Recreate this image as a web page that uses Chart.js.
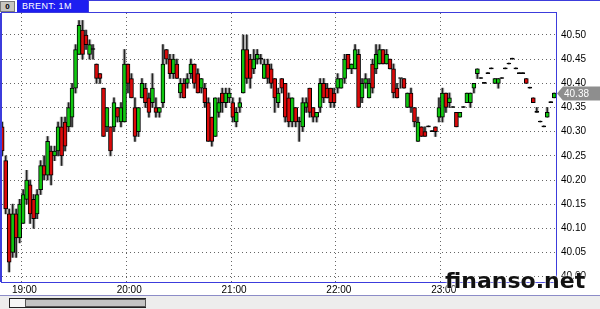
<!DOCTYPE html>
<html>
<head>
<meta charset="utf-8">
<script src="https://cdn.jsdelivr.net/npm/chart.js@4"></script>
<style>
  html, body { margin: 0; padding: 0; background: #fff; }
  #wrap { position: relative; width: 600px; height: 309px; overflow: hidden; background: #fff; }
  #c { position: absolute; left: 0; top: 0; z-index: 1; }
  .icon { position: absolute; z-index: 5; left: 0; top: 1px; width: 13px; height: 9px; background: #c8c6c0; border: 1px solid #7a7a7a;
          font: bold 8px "Liberation Sans", sans-serif; color: #000; text-align: center; line-height: 9px; }
  .title { position: absolute; z-index: 5; left: 17px; top: 0; width: 66px; height: 12px; padding-left: 5px; background: #1e1ef0;
           color: #fff; font: 9px "Liberation Sans", sans-serif; line-height: 12px; letter-spacing: 0.3px; }
  .field { position: absolute; z-index: 9; left: 88px; top: 0; width: 512px; height: 12px; background: #fff;
           box-shadow: inset 1px 1px 0 #3c3cdc; }
  .footer { position: absolute; z-index: 5; left: 0; top: 295px; width: 600px; height: 14px; background: #ededed; border-top: 1px solid #8c8cc8; }
  .scroll { position: absolute; left: 9px; top: 2px; width: 135px; height: 8px; background: #f6f6f6; border: 1px solid #222; }
  .thumb { position: absolute; left: 15px; top: 0; width: 119px; height: 6px; background: #c4c4c4; border: 1px solid #555; }
  .wm { position: absolute; z-index: 6; left: 445px; top: 270px; font: bold 22px "DejaVu Sans", sans-serif; line-height: 22px;
        color: #111; text-shadow: 0 0 2px #fff, 0 0 3px #fff; white-space: nowrap; }
</style>
</head>
<body>
<div id="wrap">
  <canvas id="c" width="600" height="309"></canvas>
  <div class="icon">0</div>
  <div class="title">BRENT: 1M</div>
  <div class="field"></div>
  <div class="footer"><div class="scroll"><div class="thumb"></div></div></div>
  <div class="wm">finanso.net</div>
</div>
<script>
// BRENT, 1 minute chart (one candle kept every 2 minutes)
const times = [
  '18:49','18:51','18:53','18:55','18:57','18:59',
  '19:01','19:03','19:05','19:07','19:09','19:11','19:13','19:15','19:17','19:19','19:21','19:23','19:25','19:27','19:29',
  '19:31','19:33','19:35','19:37','19:39','19:41','19:43','19:45','19:47','19:49','19:51','19:53','19:55','19:57','19:59',
  '20:01','20:03','20:05','20:07','20:09','20:11','20:13','20:15','20:17','20:19','20:21','20:23','20:25','20:27','20:29',
  '20:31','20:33','20:35','20:37','20:39','20:41','20:43','20:45','20:47','20:49','20:51','20:53','20:55','20:57','20:59',
  '21:01','21:03','21:05','21:07','21:09','21:11','21:13','21:15','21:17','21:19','21:21','21:23','21:25','21:27','21:29',
  '21:31','21:33','21:35','21:37','21:39','21:41','21:43','21:45','21:47','21:49','21:51','21:53','21:55','21:57','21:59',
  '22:01','22:03','22:05','22:07','22:09','22:11','22:13','22:15','22:17','22:19','22:21','22:23','22:25','22:27','22:29',
  '22:31','22:33','22:35','22:37','22:39','22:41','22:43','22:45','22:47','22:49','22:51','22:53','22:55','22:57','22:59',
  '23:01','23:03','23:05','23:07','23:09','23:11','23:13','23:15','23:17','23:19','23:21','23:23','23:25','23:27','23:29',
  '23:31','23:33','23:35','23:37','23:39','23:41','23:43','23:45','23:47','23:49','23:51','23:53','23:55','23:57','23:59',
  '00:01','00:03','00:05'
];

const open = [
  40.31,40.24,40.13,40.05,40.13,40.08,
  40.11,40.16,40.19,40.16,40.13,40.18,40.23,40.21,40.26,40.25,40.26,40.31,40.32,40.31,40.33,
  40.39,40.46,40.51,40.50,40.46,40.47,40.44,40.42,40.39,40.31,40.31,40.31,40.35,40.32,40.32,
  40.44,40.41,40.35,40.30,40.37,40.39,40.37,40.36,40.35,40.34,40.36,40.47,40.45,40.42,40.44,
  40.38,40.40,40.40,40.42,40.44,40.42,40.39,40.39,40.36,40.33,40.29,40.34,40.38,40.36,40.37,
  40.36,40.32,40.35,40.38,40.47,40.45,40.43,40.45,40.45,40.41,40.44,40.43,40.41,40.36,40.41,
  40.40,40.37,40.32,40.35,40.32,40.31,40.35,40.39,40.35,40.33,40.35,40.40,40.39,40.39,40.38,
  40.39,40.39,40.41,40.46,40.43,40.43,40.46,40.37,40.40,40.37,40.44,40.43,40.44,40.47,40.44,
  40.45,40.43,40.39,40.41,40.41,40.35,40.38,40.35,40.28,40.31,40.30,40.31,40.30,40.31,40.33,
  40.33,40.38,40.36,40.35,40.34,40.33,40.35,40.36,40.36,40.39,40.42,40.41,40.40,40.42,40.43,
  40.40,40.40,40.41,40.43,40.44,40.45,40.43,40.42,40.42,40.41,40.39,40.37,40.34,40.32,40.31,
  40.33,40.36,40.37
];
const high = [
  40.32,40.25,40.14,40.15,40.14,40.16,
  40.18,40.22,40.20,40.17,40.18,40.24,40.25,40.29,40.27,40.27,40.32,40.33,40.33,40.36,40.40,
  40.48,40.53,40.53,40.51,40.49,40.48,40.44,40.42,40.39,40.35,40.31,40.37,40.35,40.36,40.47,
  40.44,40.42,40.37,40.35,40.41,40.40,40.38,40.42,40.37,40.35,40.48,40.47,40.46,40.46,40.45,
  40.41,40.41,40.42,40.45,40.44,40.43,40.41,40.40,40.37,40.33,40.37,40.37,40.39,40.39,40.39,
  40.37,40.35,40.37,40.50,40.50,40.46,40.47,40.47,40.46,40.45,40.45,40.44,40.41,40.39,40.41,
  40.40,40.38,40.37,40.35,40.33,40.37,40.37,40.39,40.35,40.34,40.41,40.41,40.40,40.39,40.39,
  40.42,40.41,40.46,40.46,40.44,40.48,40.47,40.41,40.42,40.41,40.45,40.48,40.48,40.47,40.47,
  40.45,40.44,40.40,40.41,40.41,40.38,40.39,40.35,40.33,40.31,40.31,40.31,40.30,40.31,40.37,
  40.39,40.38,40.38,40.35,40.34,40.34,40.35,40.38,40.38,40.40,40.43,40.41,40.40,40.42,40.43,
  40.41,40.41,40.41,40.43,40.44,40.45,40.43,40.42,40.42,40.41,40.39,40.37,40.35,40.32,40.31,
  40.35,40.36,40.38
];
const low = [
  40.25,40.13,40.01,40.04,40.04,40.07,
  40.11,40.15,40.11,40.10,40.12,40.17,40.20,40.20,40.19,40.24,40.25,40.23,40.26,40.30,40.31,
  40.38,40.46,40.45,40.47,40.45,40.45,40.40,40.40,40.29,40.30,40.25,40.30,40.32,40.31,40.32,
  40.38,40.37,40.28,40.29,40.37,40.35,40.33,40.35,40.33,40.33,40.35,40.44,40.41,40.41,40.41,
  40.37,40.37,40.39,40.41,40.39,40.38,40.38,40.35,40.28,40.27,40.29,40.33,40.34,40.35,40.36,
  40.32,40.31,40.34,40.38,40.40,40.39,40.42,40.44,40.44,40.41,40.40,40.39,40.34,40.35,40.38,
  40.32,40.31,40.31,40.31,40.28,40.30,40.34,40.33,40.32,40.32,40.34,40.36,40.37,40.35,40.35,
  40.38,40.39,40.40,40.43,40.42,40.43,40.35,40.36,40.39,40.37,40.38,40.42,40.44,40.44,40.44,
  40.43,40.37,40.37,40.39,40.39,40.35,40.34,40.31,40.28,40.29,40.29,40.31,40.30,40.29,40.32,
  40.32,40.34,40.35,40.35,40.31,40.33,40.35,40.36,40.35,40.38,40.41,40.41,40.40,40.42,40.43,
  40.40,40.39,40.41,40.43,40.44,40.45,40.43,40.42,40.42,40.40,40.39,40.36,40.34,40.32,40.31,
  40.33,40.36,40.37
];
const close = [
  40.26,40.14,40.03,40.13,40.08,40.15,
  40.17,40.20,40.13,40.12,40.17,40.23,40.21,40.28,40.21,40.26,40.31,40.25,40.27,40.35,40.39,
  40.47,40.52,40.46,40.48,40.48,40.47,40.41,40.41,40.29,40.35,40.26,40.36,40.33,40.35,40.44,
  40.40,40.37,40.29,40.35,40.40,40.36,40.34,40.39,40.34,40.35,40.44,40.45,40.42,40.45,40.41,
  40.40,40.37,40.41,40.44,40.40,40.38,40.41,40.36,40.28,40.28,40.37,40.36,40.36,40.38,40.38,
  40.33,40.34,40.36,40.47,40.41,40.41,40.45,40.46,40.45,40.44,40.41,40.40,40.37,40.38,40.39,
  40.33,40.32,40.37,40.32,40.32,40.36,40.36,40.34,40.33,40.34,40.40,40.37,40.37,40.36,40.36,
  40.41,40.41,40.45,40.43,40.44,40.47,40.35,40.40,40.41,40.40,40.39,40.46,40.47,40.44,40.46,
  40.43,40.38,40.37,40.41,40.39,40.38,40.35,40.32,40.32,40.29,40.29,40.31,40.30,40.30,40.35,
  40.38,40.35,40.37,40.35,40.31,40.34,40.35,40.38,40.38,40.40,40.43,40.41,40.40,40.42,40.43,
  40.41,40.41,40.41,40.43,40.44,40.45,40.43,40.42,40.42,40.40,40.39,40.36,40.34,40.32,40.31,
  40.34,40.36,40.38
];

const yTicks = [40.00, 40.05, 40.10, 40.15, 40.20, 40.25, 40.30, 40.35, 40.40, 40.45, 40.50];
const hourLabels = ['19:00', '20:00', '21:00', '22:00', '23:00'];

// minutes since 18:00, times after midnight belong to the same session
function toMin(t) {
  let h = parseInt(t.slice(0, 2), 10);
  const m = parseInt(t.slice(3), 10);
  if (h < 12) h += 24;
  return (h - 18) * 60 + m;
}

const bodies = times.map((t, i) => ({ x: toMin(t), y: [open[i], close[i]] }));
const wicks = times.map((t, i) => ({ x: toMin(t), y: [low[i], high[i]] }));
const bodyColors = times.map((t, i) =>
  close[i] > open[i] ? '#10c810' : close[i] < open[i] ? '#dc0a0a' : '#000');

const frame = {
  id: 'frame',
  afterDraw(chart) {
    const { ctx, chartArea: a } = chart;
    ctx.save();
    ctx.strokeStyle = '#3c3cdc';
    ctx.lineWidth = 1;
    ctx.strokeRect(a.left - 0.5, a.top - 0.5, a.right - a.left + 1, a.bottom - a.top + 1);
    ctx.beginPath();
    ctx.moveTo(0.5, a.top);
    ctx.lineTo(0.5, a.bottom);
    ctx.stroke();

    // last price marker
    const last = close[close.length - 1];
    const y = Math.round(chart.scales.y.getPixelForValue(last)) + 0.5;
    ctx.fillStyle = '#8e8e8e';
    ctx.beginPath();
    ctx.moveTo(a.right + 1, y);
    ctx.lineTo(a.right + 7, y - 7);
    ctx.lineTo(600, y - 7);
    ctx.lineTo(600, y + 7);
    ctx.lineTo(a.right + 7, y + 7);
    ctx.closePath();
    ctx.fill();
    ctx.fillStyle = '#fff';
    ctx.font = '10px "Liberation Sans"';
    ctx.textBaseline = 'middle';
    ctx.fillText(last.toFixed(2), a.right + 8, y + 0.5);
    ctx.restore();
  }
};

Chart.defaults.font.family = '"Liberation Sans", sans-serif';
Chart.defaults.font.size = 10;
Chart.defaults.color = '#000';

new Chart(document.getElementById('c'), {
  type: 'bar',
  data: {
    datasets: [
      {
        label: 'body',
        data: bodies,
        backgroundColor: bodyColors,
        borderColor: '#000',
        borderWidth: 1,
        borderSkipped: false,
        barThickness: 4,
        minBarLength: 1,
        grouped: false,
        order: 0
      },
      {
        label: 'wick',
        data: wicks,
        backgroundColor: '#222',
        borderWidth: 0,
        barThickness: 1,
        minBarLength: 1,
        grouped: false,
        order: 1
      },
      {
        label: 'shadow',
        data: wicks,
        backgroundColor: 'rgba(120,120,120,0.45)',
        borderWidth: 0,
        barThickness: 3,
        grouped: false,
        order: 2
      }
    ]
  },
  options: {
    responsive: false,
    animation: false,
    layout: { padding: { left: 2, top: 13, right: 0, bottom: 14 } },
    plugins: { legend: { display: false }, tooltip: { enabled: false } },
    scales: {
      x: {
        type: 'linear',
        offset: false,
        min: toMin('18:49') - 0.1,
        max: toMin('00:06'),
        afterBuildTicks: scale => { scale.ticks = hourLabels.map(t => ({ value: toMin(t) })); },
        afterFit: scale => { scale.height = 13; },
        ticks: {
          padding: 2,
          labelOffset: 3,
          autoSkip: false,
          maxRotation: 0,
          callback: v => hourLabels[hourLabels.findIndex(t => toMin(t) === v)]
        },
        grid: { color: '#666', drawTicks: false, offset: false },
        border: { display: false, dash: [1, 3] }
      },
      y: {
        position: 'right',
        min: 39.989,
        max: 40.5455,
        afterBuildTicks: scale => { scale.ticks = yTicks.map(v => ({ value: v })); },
        afterFit: scale => { scale.width = 44; },
        ticks: { padding: 5, callback: v => v.toFixed(2) },
        grid: { color: '#666', drawTicks: false },
        border: { display: false, dash: [1, 3] }
      }
    }
  },
  plugins: [frame]
});
</script>
</body>
</html>
